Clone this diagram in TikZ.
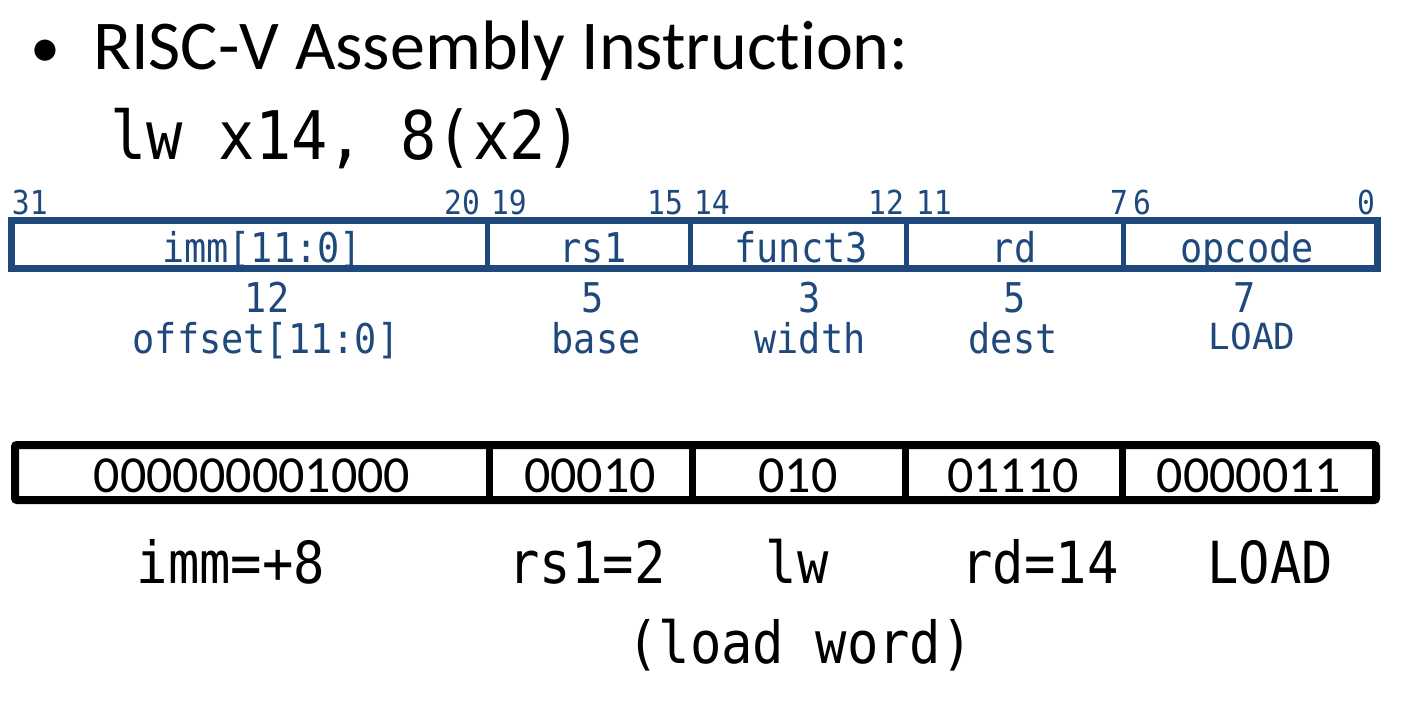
\documentclass[tikz,border=0pt]{standalone}
\usepackage{fontspec}
\setmainfont[Ligatures=NoCommon]{Carlito}
\newfontfamily\condmono[FakeStretch=0.9]{DejaVu Sans Mono}
\newfontfamily\plainmono{DejaVu Sans Mono}
\definecolor{fieldblue}{HTML}{1F497D}
\tikzset{
  txt/.style={inner sep=0pt, outer sep=0pt},
  title/.style={txt, font=\fontsize{70}{84}\selectfont},
  code/.style={txt, font=\condmono\fontsize{67}{80}\selectfont},
  bitnum/.style={txt, text=fieldblue, font=\condmono\fontsize{33}{38}\selectfont},
  fieldname/.style={txt, text=fieldblue, font=\condmono\fontsize{41}{48}\selectfont},
  fieldinfo/.style={txt, text=fieldblue, font=\condmono\fontsize{41}{49}\selectfont},
  binval/.style={txt, font=\fontsize{52}{62}\selectfont},
  meaning/.style={txt, font=\condmono\fontsize{58}{68}\selectfont},
  formatbox/.style={draw=fieldblue, line width=7pt},
  formatsep/.style={draw=fieldblue, line width=5pt},
  valuebox/.style={draw=black, line width=8pt, rounded corners=2pt},
  valuesep/.style={draw=black, line width=7pt}
}
\begin{document}
\begin{tikzpicture}[x=1pt, y=-1pt]
\useasboundingbox (0,0) rectangle (1422,711);

% heading
\node[txt, font=\fontsize{60}{70}\selectfont, anchor=base west] (bullet) at (30,68) {•};
\node[title, anchor=base west] (heading) at (93,70) {RISC-V Assembly Instruction:};
\node[code, anchor=base west] (asm) at (110,160) {lw x14, 8(x2)};

% bit positions
\node[bitnum, anchor=base west] (b31) at (12,215) {31};
\node[bitnum, anchor=base east] (b20) at (480,215) {20};
\node[bitnum, anchor=base west] (b19) at (491,215) {19};
\node[bitnum, anchor=base east] (b15) at (683,215) {15};
\node[bitnum, anchor=base west] (b14) at (694,215) {14};
\node[bitnum, anchor=base east] (b12) at (904,215) {12};
\node[bitnum, anchor=base west] (b11) at (916,215) {11};
\node[bitnum, anchor=base east] (b7) at (1128,215) {7};
\node[bitnum, anchor=base west] (b6) at (1133,215) {6};
\node[bitnum, anchor=base east] (b0) at (1375,215) {0};

% I-type format fields
\draw[formatbox] (11,221) rectangle (1377,269);
\foreach \x in {487,690,906,1123} \draw[formatsep] (\x,221) -- (\x,269);
\node[fieldname, anchor=base] (fimm) at (262,263) {imm[11:0]};
\node[fieldname, anchor=base] (frs1) at (593,263) {rs1};
\node[fieldname, anchor=base] (ff3) at (801,263) {funct3};
\node[fieldname, anchor=base] (frd) at (1014,263) {rd};
\node[fieldname, anchor=base] (fop) at (1247,263) {opcode};

% field widths and roles
\node[fieldinfo, anchor=base] (wimm) at (267,313) {12};
\node[fieldinfo, anchor=base] (wrs1) at (593,313) {5};
\node[fieldinfo, anchor=base] (wf3) at (810,313) {3};
\node[fieldinfo, anchor=base] (wrd) at (1015,313) {5};
\node[fieldinfo, anchor=base] (wop) at (1245,313) {7};
\node[fieldinfo, anchor=base] (rimm) at (266,354) {offset[11:0]};
\node[fieldinfo, anchor=base] (rrs1) at (596,354) {base};
\node[fieldinfo, anchor=base] (rf3) at (810,354) {width};
\node[fieldinfo, anchor=base] (rrd) at (1013,354) {dest};
\node[txt, text=fieldblue, font=\plainmono\fontsize{36}{43}\selectfont, anchor=base] (rop) at (1252,350) {LOAD};

% encoded machine word
\draw[valuebox] (15,445) rectangle (1376,500);
\foreach \x in {489,692,905,1122} \draw[valuesep] (\x,445) -- (\x,500);
\node[binval, anchor=base] (vimm) at (252,492) {000000001000};
\node[binval, anchor=base] (vrs1) at (590,492) {00010};
\node[binval, anchor=base] (vf3) at (798,492) {010};
\node[binval, anchor=base] (vrd) at (1013,492) {01110};
\node[binval, anchor=base] (vop) at (1249,492) {0000011};

% decoded meaning
\node[meaning, anchor=base] (mimm) at (231,583) {imm=+8};
\node[meaning, anchor=base] (mrs1) at (587,583) {rs1=2};
\node[meaning, anchor=base] (mf3) at (797,583) {lw};
\node[meaning, anchor=base] (mrd) at (1040,583) {rd=14};
\node[meaning, anchor=base] (mop) at (1270,583) {LOAD};
\node[meaning, anchor=base] (mword) at (800,663) {(load word)};
\end{tikzpicture}
\end{document}
